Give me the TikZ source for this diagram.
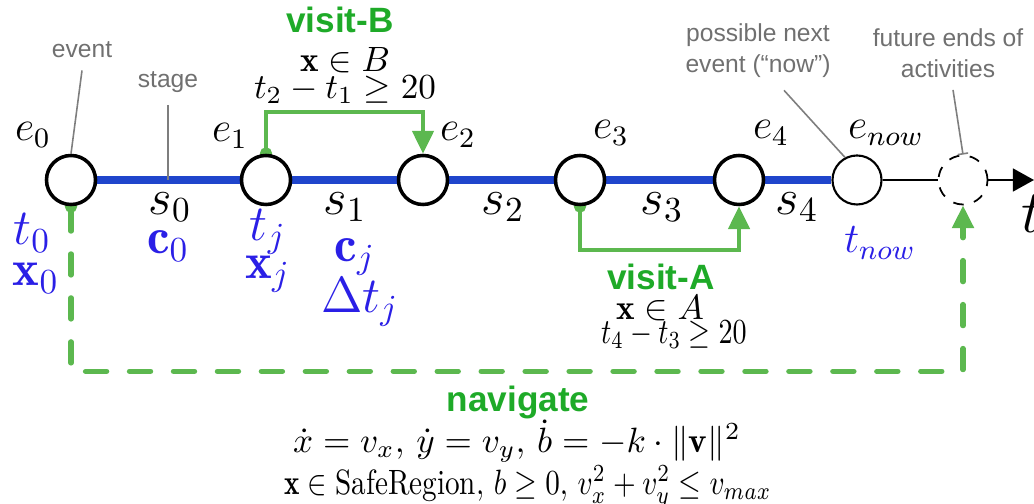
\documentclass[tikz,border=0pt]{standalone}
\usepackage{amsmath,amssymb}
\usepackage{fontspec}
\usetikzlibrary{arrows.meta,positioning}
\newfontfamily\annfont{Liberation Sans}
\definecolor{lineblue}{HTML}{1F45CC}
\definecolor{labblue}{HTML}{2A1FE6}
\definecolor{actgreen}{HTML}{5CB84F}
\definecolor{labgreen}{HTML}{1EAA28}
\definecolor{txt2}{HTML}{707070}
\pgfdeclarelayer{bg}
\pgfsetlayers{bg,main}

\begin{document}
\begin{tikzpicture}[
  x=0.01cm, y=-0.01cm,
  >=Stealth,
  event/.style={circle, draw, line width=1pt, fill=white, minimum size=0.49cm, inner sep=0pt},
  evlab/.style={font=\large, inner sep=1pt},
  stglab/.style={font=\Large, inner sep=1pt},
  vallab/.style={font=\Large, text=labblue, inner sep=1pt},
  note/.style={font=\annfont\fontsize{7}{8.8}\selectfont, text=txt2, align=center},
  ann/.style={draw=txt2!90, line width=0.45pt},
  actname/.style={font=\annfont\bfseries\fontsize{10}{12}\selectfont, text=labgreen, inner sep=1pt},
  cond/.style={inner sep=1pt},
  stage/.style={draw=lineblue, line width=2.2pt},
  axis/.style={draw, line width=0.6pt},
  visit/.style={draw=actgreen, line width=1.2pt, shorten <=-1.6pt,
    {Circle[length=3.4pt]}-{Triangle[length=6.5pt,width=6pt]}},
  navi/.style={visit, line width=1.5pt, line cap=round, dash pattern=on 6pt off 6.5pt},
]
\useasboundingbox (0,0) rectangle (1034,504);

% events on the time line
\node[event] (e0) at (71,180) {};
\node[event] (e1) at (266,180) {};
\node[event] (e2) at (423,180) {};
\node[event] (e3) at (580,180) {};
\node[event] (e4) at (739,180) {};
\node[event, line width=0.6pt] (enow) at (857,180) {};
\node[event, line width=0.5pt, dashed] (efut) at (963,180) {};
\coordinate (tend) at (1034,180);
\coordinate (stgpt) at (168,180);

\node[evlab] (le0) at (33,135) {$e_0$};
\node[evlab] (le1) at (230,136) {$e_1$};
\node[evlab] (le2) at (458,135) {$e_2$};
\node[evlab] (le3) at (611,133) {$e_3$};
\node[evlab] (le4) at (771,133) {$e_4$};
\node[evlab] (lenow) at (886,133) {$e_{now}$};
\node[font=\LARGE, anchor=west, inner sep=0pt] (taxis) at (1021,214) {$t$};

% stages
\begin{pgfonlayer}{bg}
\draw[stage] (e0) -- (e1);
\draw[stage] (e1) -- (e2);
\draw[stage] (e2) -- (e3);
\draw[stage] (e3) -- (e4);
\draw[stage] (e4) -- (enow);
\draw[axis] (enow) -- (efut);
\draw[axis, -{Triangle[length=6pt,width=6.5pt]}] (efut) -- (tend);
\end{pgfonlayer}

\node[stglab] (ls0) at (170,207) {$s_0$};
\node[stglab] (ls1) at (345,207) {$s_1$};
\node[stglab] (ls2) at (503,207) {$s_2$};
\node[stglab] (ls3) at (662,207) {$s_3$};
\node[stglab] (ls4) at (797,207) {$s_4$};

% values at events and stages
\node[vallab] (lt0) at (32,233) {$t_0$};
\node[vallab] (lx0) at (36,278) {$\mathbf{x}_0$};
\node[vallab] (lc0) at (168,246) {$\mathbf{c}_0$};
\node[vallab] (ltj) at (268,232) {$t_j$};
\node[vallab] (lxj) at (268,274) {$\mathbf{x}_j$};
\node[vallab] (lcj) at (355,257) {$\mathbf{c}_j$};
\node[vallab] (ldtj) at (360,302) {$\Delta t_j$};
\node[vallab, font=\large] (ltnow) at (880,243) {$t_{now}$};

% notes
\node[note] (lbevent) at (82,50) {event};
\node[note] (lbstage) at (168,82) {stage};
\node[note] (lbnext) at (758,51) {possible next\\event (“now”)};
\node[note] (lbfut) at (948,53) {future ends of\\activities};
\draw[ann] (lbevent.south) -- (e0.north);
\draw[ann] (lbstage.south) -- (stgpt);
\draw[ann] ([xshift=0.26cm]lbnext.south) -- (enow.118);
\draw[ann, -{Bar[width=3pt]}] ([xshift=0.05cm]lbfut.south) -- (efut.north);

% activities
\begin{pgfonlayer}{bg}
\draw[visit] (e1.north) -- ++(0,-42) -| (e2.north);
\draw[visit] (e3.south) -- ++(0,43.5) -| (e4.south);
\draw[navi] (e0.south) -- ++(0,165) -| (efut.south);
\end{pgfonlayer}

\node[actname] (lvisb) at (340,20) {visit-B};
\node[cond] (lvisbx) at (345,60) {$\mathbf{x}\in B$};
\node[cond] (lvisbt) at (345,90) {$t_2 - t_1 \geq 20$};

\node[actname] (lvisa) at (661,277) {visit-A};
\node[cond] (lvisax) at (660,308) {$\mathbf{x}\in A$};
\node[cond] (lvisat) at (674,335) {\scalebox{0.8}[1]{$t_4 - t_3 \geq 20$}};

\node[actname] (lnav) at (518,402) {navigate};
\node[cond] (lnavdyn) at (517,441) {$\dot{x}=v_x,\, \dot{y}=v_y,\, \dot{b}=-k\cdot\|\mathbf{v}\|^2$};
\node[cond] (lnavcon) at (528,487) {\scalebox{0.83}[1]{$\mathbf{x}\in\mathrm{SafeRegion},\, b\geq 0,\, v_x^2+v_y^2\leq v_{max}$}};

\end{tikzpicture}
\end{document}
